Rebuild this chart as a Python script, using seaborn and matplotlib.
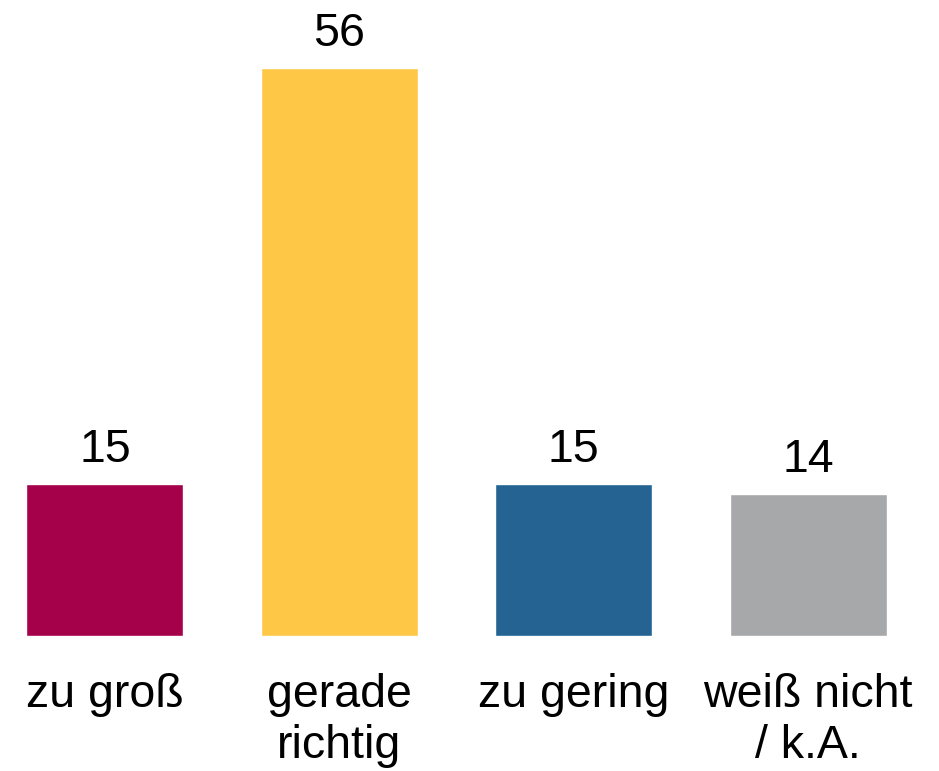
import matplotlib
matplotlib.use("Agg")
import matplotlib.pyplot as plt
import seaborn as sns
import pandas as pd

categories = ["zu groß", "gerade\nrichtig", "zu gering", "weiß nicht\n/ k.A."]
values = [15, 56, 15, 14]
colors = ["#A5004A", "#FEC846", "#246392", "#A7A8AA"]

sns.set_theme(style="white")
plt.rcParams["font.family"] = ["Liberation Sans", "DejaVu Sans"]

df = pd.DataFrame({"cat": categories, "val": values})

fig = plt.figure(figsize=(9.39, 7.71), dpi=100)
ax = fig.add_axes([0, 0.1757, 1, 1 - 0.1757])
sns.barplot(data=df, x="cat", y="val", hue="cat", palette=colors, legend=False,
            width=0.67, saturation=1, ax=ax)

ax.set_xlim(-0.448, 3.559)
ax.set_ylim(0, 62.71)
for c in ax.containers:
    ax.bar_label(c, fmt="%d", fontsize=33.5, padding=8.5, color="black")

ax.set_xlabel("")
ax.set_ylabel("")
ax.set_yticks([])
ax.tick_params(axis="x", length=0, pad=27, labelsize=33.5, labelcolor="black")
for lbl in ax.get_xticklabels():
    lbl.set_linespacing(1.2)
for s in ax.spines.values():
    s.set_visible(False)

fig.savefig("out.png", dpi=100)
